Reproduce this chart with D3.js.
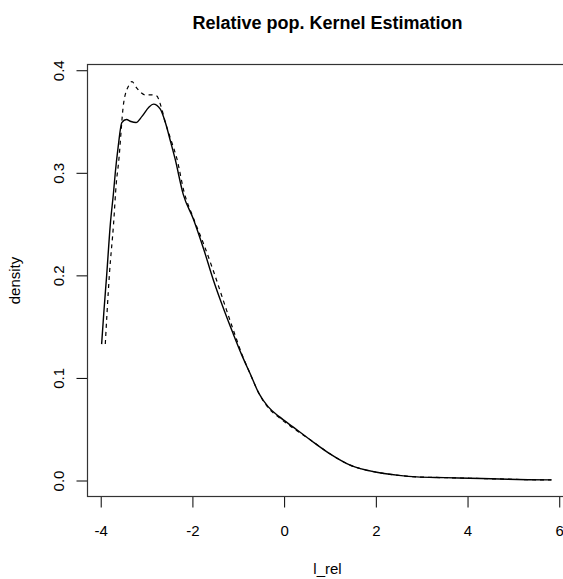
<!DOCTYPE html>
<html>
<head>
<meta charset="utf-8">
<script src="https://cdn.jsdelivr.net/npm/d3@7"></script>
<style>
    body { margin: 0; background: #fff; }
    text { font-family: "Liberation Sans", Arial, sans-serif; fill: #000; }
</style>
</head>
<body>
<div id="chart"></div>
<script>
"use strict";

// Kernel density estimates
let solidX = [-3.98, -3.93, -3.87, -3.79, -3.72, -3.68, -3.62, -3.54, -3.44, -3.34,
    -3.23, -3.10, -2.95, -2.85, -2.70, -2.59, -2.48, -2.38, -2.20, -1.98,
    -1.75, -1.54, -1.30, -1.11, -0.92, -0.74, -0.55, -0.35, -0.10, 0.20,
    0.56, 1.00, 1.44, 2.02, 2.50, 2.89, 3.50, 4.05, 4.70, 5.32, 5.83];
let solidY = [0.133, 0.165, 0.200, 0.250, 0.281, 0.301, 0.325, 0.349, 0.352, 0.350,
    0.349, 0.355, 0.364, 0.367, 0.362, 0.349, 0.331, 0.314, 0.279, 0.255,
    0.225, 0.195, 0.165, 0.143, 0.122, 0.104, 0.085, 0.072, 0.062, 0.052,
    0.040, 0.026, 0.015, 0.008, 0.005, 0.0035, 0.0028, 0.0022, 0.0015, 0.0008, 0.0006];

let dashX = [-3.90, -3.86, -3.81, -3.72, -3.66, -3.61, -3.50, -3.39, -3.32, -3.22,
    -3.14, -3.03, -2.90, -2.78, -2.70, -2.59, -2.46, -2.34, -2.18, -1.98,
    -1.75, -1.54, -1.30, -1.11, -0.92, -0.74, -0.55, -0.35, -0.10, 0.20,
    0.56, 1.00, 1.44, 2.02, 2.50, 2.89, 3.50, 4.05, 4.70, 5.32, 5.83];
let dashY = [0.133, 0.165, 0.201, 0.250, 0.290, 0.310, 0.368, 0.385, 0.389, 0.383,
    0.379, 0.376, 0.376, 0.375, 0.367, 0.349, 0.331, 0.314, 0.281, 0.256,
    0.230, 0.204, 0.172, 0.147, 0.123, 0.104, 0.085, 0.071, 0.061, 0.051,
    0.040, 0.026, 0.015, 0.008, 0.005, 0.0035, 0.0028, 0.0022, 0.0015, 0.0008, 0.0006];

let xTicks = [-4, -2, 0, 2, 4, 6];
let yTicks = [0.0, 0.1, 0.2, 0.3, 0.4];

function densityPlot() {

    let width = 563;
    let height = 579;
    let left = 87.5;
    let right = 567.5;
    let top = 64.5;
    let bottom = 496.5;

    let svg = d3.select("#chart").append("svg")
        .attr("width", width).attr("height", height);

    // R style axes: 4% padding around the data range
    let xScale = d3.scaleLinear().domain([-4.288, 6.18]).range([left, right]);
    let yScale = d3.scaleLinear().domain([-0.0156, 0.4056]).range([bottom, top]);

    // x axis
    let xAxis = svg.append("g").attr("transform", `translate(0,${bottom})`)
        .call(d3.axisBottom(xScale).tickValues(xTicks).tickSize(11)
            .tickPadding(17.5).tickFormat(d3.format("d")));
    xAxis.select(".domain").remove();
    xAxis.selectAll("line").attr("stroke", "#000");
    xAxis.selectAll("text").style("font-size", "15px")
        .text(function (d) { return d < 0 ? "-" + Math.abs(d) : d; });

    // y axis, labels turned like R does
    let yAxis = svg.append("g").attr("transform", `translate(${left},0)`)
        .call(d3.axisLeft(yScale).tickValues(yTicks).tickSize(11)
            .tickFormat(d3.format(".1f")));
    yAxis.select(".domain").remove();
    yAxis.selectAll("line").attr("stroke", "#000");
    yAxis.selectAll("text").attr("x", 0).attr("y", -24).attr("dy", null)
        .attr("transform", "rotate(-90)").style("text-anchor", "middle")
        .style("font-size", "15px");

    // Box
    svg.append("rect").attr("x", left).attr("y", top)
        .attr("width", right - left).attr("height", bottom - top)
        .attr("fill", "none").attr("stroke", "#333").attr("stroke-width", 1.2);

    // Curves
    let line = d3.line()
        .x(function (d) { return xScale(d[0]); })
        .y(function (d) { return yScale(d[1]); })
        .curve(d3.curveMonotoneX);

    let solid = d3.zip(solidX, solidY);
    let dashed = d3.zip(dashX, dashY);

    svg.append("path").datum(dashed).attr("d", line)
        .attr("fill", "none").attr("stroke", "#000").attr("stroke-width", 1.2)
        .attr("stroke-dasharray", "4,4");

    svg.append("path").datum(solid).attr("d", line)
        .attr("fill", "none").attr("stroke", "#000").attr("stroke-width", 1.4);

    // Titles
    svg.append("text").attr("x", (left + right) / 2).attr("y", 28.5)
        .style("text-anchor", "middle").style("font-size", "18px")
        .style("font-weight", "bold").text("Relative pop. Kernel Estimation");

    svg.append("text").attr("x", (left + right) / 2).attr("y", 574)
        .style("text-anchor", "middle").style("font-size", "15px").text("l_rel");

    svg.append("text").attr("transform", `translate(20,${(top + bottom) / 2}) rotate(-90)`)
        .style("text-anchor", "middle").style("font-size", "15px").text("density");
}

window.onload = function () {
    densityPlot();
};
</script>
</body>
</html>
